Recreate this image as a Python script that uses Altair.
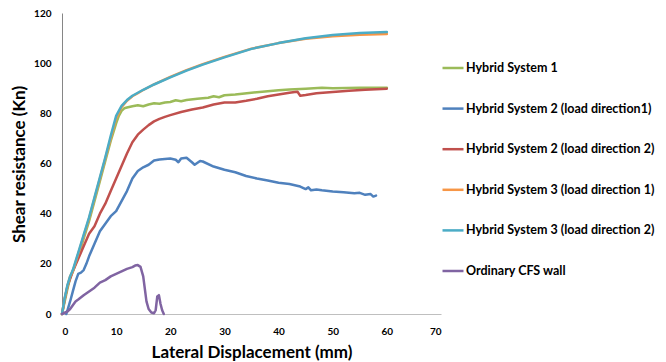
import altair as alt
import pandas as pd

series_names = [
    "Hybrid System 1",
    "Hybrid System 2 (load direction1)",
    "Hybrid System 2 (load direction 2)",
    "Hybrid System 3 (load direction 1)",
    "Hybrid System 3  (load direction 2)",
    "Ordinary CFS wall",
]
series_colors = ["#9BBB59", "#4F81BD", "#C0504D", "#F79646", "#4BACC6", "#8064A2"]

h1_x = [0, 0.5, 1, 1.5, 2, 3, 4, 5, 6, 7, 8, 9, 10, 10.5, 11, 11.5, 12, 13, 14, 15, 16, 17, 18, 19, 20, 21, 22, 23, 25, 27, 28, 29, 30, 32, 35, 38, 40, 42, 45, 48, 50, 55, 60]
h1_y = [0, 5, 10, 14.5, 17, 23, 30, 37, 45, 53, 61, 69, 76, 79, 81, 82, 82.3, 82.8, 83.2, 82.8, 83.5, 84, 83.8, 84.3, 84.5, 85.2, 84.8, 85.3, 85.8, 86.2, 86.8, 86.4, 87.2, 87.5, 88.2, 88.8, 89.2, 89.5, 89.8, 90.2, 90, 90.2, 90.2]

h2a_x = [0.8, 1.5, 2, 2.5, 3, 3.5, 4, 4.5, 5, 6, 7, 8, 9, 10, 11, 12, 13, 14, 15, 16, 17, 18, 19, 20, 21, 21.5, 22, 23, 24, 24.5, 25.5, 26, 28, 30, 32, 34, 36, 38, 40, 42, 44, 45, 45.5, 46, 47, 48, 50, 52, 54, 55, 56, 57, 57.5, 58]
h2a_y = [0, 5, 9, 13, 16, 16.5, 17.5, 20, 23, 28, 33, 36, 39, 41, 45, 49, 54, 57, 58.5, 59.5, 61.2, 61.6, 61.8, 62, 61.5, 60.5, 62, 62.3, 60.5, 59.5, 61, 60.8, 58.8, 57.5, 56.5, 55, 54, 53.2, 52.3, 51.8, 50.8, 49.8, 50.5, 49.3, 49.6, 49.3, 48.8, 48.5, 48.1, 48.3, 47.5, 47.8, 46.8, 47.2]

h2b_x = [0, 0.5, 1, 2, 3, 4, 5, 6, 7, 8, 9, 10, 11, 12, 13, 14, 15, 16, 17, 18, 19, 20, 22, 24, 26, 28, 30, 32, 34, 36, 38, 40, 42, 43, 43.5, 44, 45, 47, 50, 53, 56, 60]
h2b_y = [0, 6, 11, 17, 22, 27, 32, 35, 40, 44, 49, 54, 59, 64, 68.5, 71.5, 73.5, 75.3, 76.8, 77.8, 78.6, 79.3, 80.5, 81.5, 82.3, 83.5, 84.3, 84.3, 85, 85.8, 86.8, 87.5, 88.2, 88.5, 88.6, 87, 87.3, 88, 88.5, 89, 89.4, 89.8]

h3a_x = [0, 0.5, 1, 1.5, 2, 3, 4, 5, 6, 7, 8, 9, 10, 11, 12, 13, 14, 15, 17, 20, 23, 26, 30, 35, 40, 45, 50, 55, 60]
h3a_y = [0, 6, 11, 15, 17, 24, 31, 38, 46, 54, 62, 70, 78, 82.5, 85, 86.8, 88, 89.3, 91.5, 94.5, 97.2, 99.6, 102.5, 105.8, 108, 109.7, 110.7, 111.3, 111.6]

h3b_x = [0, 0.5, 1, 1.5, 2, 3, 4, 5, 6, 7, 8, 9, 10, 11, 12, 13, 14, 15, 17, 20, 23, 26, 30, 35, 40, 45, 50, 55, 60]
h3b_y = [0, 6.5, 11.5, 15, 17.5, 24.5, 31.5, 38.5, 46.5, 54.5, 62.5, 71, 79, 83, 85.3, 87, 88.2, 89.4, 91.5, 94.3, 97, 99.4, 102.3, 105.7, 108, 109.9, 111.2, 112, 112.4]

cfs_x = [0, 0.5, 1, 1.5, 2, 2.5, 3, 4, 5, 6, 7, 8, 9, 10, 11, 12, 13, 13.5, 14, 14.5, 15, 15.3, 15.6, 16, 16.5, 17, 17.3, 17.6, 17.9, 18.2, 18.5, 18.8]
cfs_y = [0, 0.5, 1, 2, 3.5, 5, 5.8, 7.5, 9, 10.5, 12.5, 13.5, 15, 16, 17, 18, 18.7, 19.3, 19.5, 18.8, 15, 10, 5, 2, 0.6, 0.3, 1.5, 7, 7.5, 4, 1.5, 0]

x_lists = [h1_x, h2a_x, h2b_x, h3a_x, h3b_x, cfs_x]
y_lists = [h1_y, h2a_y, h2b_y, h3a_y, h3b_y, cfs_y]

rows = []
for name, xs, ys in zip(series_names, x_lists, y_lists):
    for i, (xv, yv) in enumerate(zip(xs, ys)):
        rows.append({"series": name, "x": xv, "y": yv, "i": i})
df = pd.DataFrame(rows)

FONT = "Lato"

chart = alt.Chart(df).mark_line(strokeWidth=2.5, strokeCap="round", strokeJoin="round").encode(
    x=alt.X("x:Q", scale=alt.Scale(domain=[0, 70], nice=False),
            axis=alt.Axis(title="Lateral Displacement (mm)", values=[0, 10, 20, 30, 40, 50, 60, 70],
                          grid=False, ticks=False, domainColor="#BFBFBF", labelPadding=12,
                          labelFont=FONT, labelFontWeight="bold", labelFontSize=10, labelColor="#000",
                          titleFont=FONT, titleFontWeight="bold", titleFontSize=17, titleColor="#000",
                          titlePadding=8)),
    y=alt.Y("y:Q", scale=alt.Scale(domain=[0, 120], nice=False),
            axis=alt.Axis(title="Shear resistance (Kn)", values=[0, 20, 40, 60, 80, 100, 120],
                          grid=False, ticks=False, domainColor="#868686", labelPadding=11,
                          labelFont=FONT, labelFontWeight="bold", labelFontSize=10, labelColor="#000",
                          titleFont=FONT, titleFontWeight="bold", titleFontSize=17, titleColor="#000",
                          titleX=-43, titleY=151, titleAngle=270, titleAlign="center", titleBaseline="middle")),
    color=alt.Color("series:N", scale=alt.Scale(domain=series_names, range=series_colors),
                    legend=alt.Legend(title=None, orient="none", legendX=379, legendY=43,
                                      symbolType="stroke", symbolSize=441, symbolStrokeWidth=2.5,
                                      labelFont=FONT, labelFontWeight="bold", labelFontSize=12.5,
                                      labelColor="#000", labelOffset=1, rowPadding=21.6,
                                      labelLimit=400)),
    order="i:Q",
).properties(
    width=379, height=301,
    autosize=alt.AutoSizeParams(type="none"),
    padding={"left": 54, "top": 5, "right": 217, "bottom": 48},
).configure_view(stroke=None)

chart.save("out.html", embed_options={"renderer": "svg", "actions": False})
